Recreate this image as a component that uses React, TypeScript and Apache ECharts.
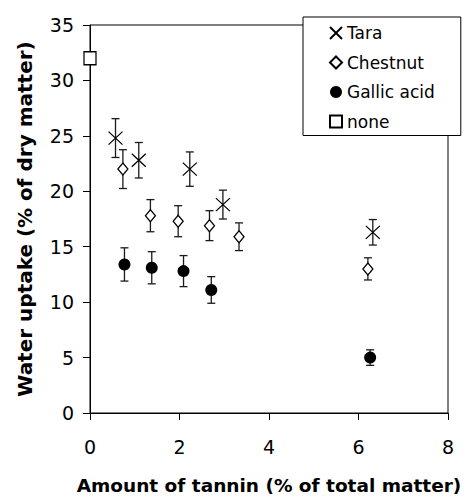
import React, { useEffect, useRef } from "react";
import * as echarts from "echarts";

// Tannin content (% of total matter) and water uptake (% of dry matter) with ± error
const taraX = [0.57, 1.09, 2.23, 2.97, 6.32];
const taraY = [24.8, 22.8, 22.0, 18.8, 16.3];
const taraErr = [1.75, 1.6, 1.55, 1.3, 1.15];

const chestnutX = [0.735, 1.35, 1.97, 2.67, 3.33, 6.21];
const chestnutY = [22.0, 17.8, 17.3, 16.9, 15.9, 13.0];
const chestnutErr = [1.75, 1.45, 1.4, 1.35, 1.25, 1.0];

const gallicX = [0.77, 1.38, 2.09, 2.71, 6.26];
const gallicY = [13.4, 13.1, 12.8, 11.1, 5.0];
const gallicErr = [1.5, 1.45, 1.4, 1.2, 0.7];

const noneX = [0];
const noneY = [32.0];

const seriesNames = ["Tara", "Chestnut", "Gallic acid", "none"];

const FONT = "DejaVu Sans";
const CROSS = "path://M0,0L12,12M12,0L0,12";

const pairs = (xs: number[], ys: number[]) => xs.map((x, i) => [x, ys[i]]);

function errorBars(id: string, xs: number[], ys: number[], errs: number[]) {
  return {
    id,
    type: "custom",
    silent: true,
    clip: false,
    z: 1,
    encode: { x: 0, y: [1, 2] },
    data: xs.map((x, i) => [x, ys[i] - errs[i], ys[i] + errs[i]]),
    renderItem: (_params: any, api: any) => {
      const x = api.value(0);
      const lo = api.coord([x, api.value(1)]);
      const hi = api.coord([x, api.value(2)]);
      const half = 4;
      const style = { stroke: "#1a1a1a", lineWidth: 1.3 };
      return {
        type: "group",
        children: [
          { type: "line", shape: { x1: lo[0], y1: lo[1], x2: hi[0], y2: hi[1] }, style },
          { type: "line", shape: { x1: lo[0] - half, y1: lo[1], x2: lo[0] + half, y2: lo[1] }, style },
          { type: "line", shape: { x1: hi[0] - half, y1: hi[1], x2: hi[0] + half, y2: hi[1] }, style },
        ],
      };
    },
  };
}

export default function App() {
  const ref = useRef<HTMLDivElement>(null);

  useEffect(() => {
    if (!ref.current) return;
    const chart = echarts.init(ref.current, undefined, { renderer: "svg" });
    chart.setOption({
      animation: false,
      backgroundColor: "#ffffff",
      textStyle: { fontFamily: FONT, color: "#000" },
      grid: {
        left: 90,
        right: 20,
        top: 25,
        bottom: 83,
        outerBoundsMode: "none",
        containLabel: false,
        show: true,
        borderColor: "#000",
        borderWidth: 1,
      },
      legend: {
        orient: "vertical",
        left: 303,
        top: 17,
        data: seriesNames,
        itemWidth: 12,
        itemHeight: 12,
        itemGap: 9.5,
        padding: [6, 26, 4, 26],
        borderColor: "#000",
        borderWidth: 1,
        backgroundColor: "#fff",
        textStyle: { fontFamily: FONT, fontSize: 17, color: "#000", lineHeight: 20 },
        selectedMode: false,
      },
      xAxis: {
        type: "value",
        min: 0,
        max: 8,
        interval: 2,
        name: "Amount of tannin (% of total matter)",
        nameLocation: "middle",
        nameGap: 63,
        nameTextStyle: { fontFamily: FONT, fontSize: 18.5, fontWeight: "bold", color: "#000" },
        axisLine: { show: true, lineStyle: { color: "#000", width: 1 } },
        axisTick: { show: true, length: 7, lineStyle: { color: "#000" } },
        axisLabel: { fontFamily: FONT, fontSize: 19, color: "#000", margin: 24 },
        splitLine: { show: false },
      },
      yAxis: {
        type: "value",
        min: 0,
        max: 35,
        interval: 5,
        name: "Water uptake (% of dry matter)",
        nameLocation: "middle",
        nameGap: 55,
        nameRotate: 90,
        nameTextStyle: { fontFamily: FONT, fontSize: 20, fontWeight: "bold", color: "#000" },
        axisLine: { show: true, lineStyle: { color: "#000", width: 1 } },
        axisTick: { show: true, length: 7, lineStyle: { color: "#000" } },
        axisLabel: { fontFamily: FONT, fontSize: 19, color: "#000", margin: 16 },
        splitLine: { show: false },
      },
      series: [
        errorBars("tara-err", taraX, taraY, taraErr),
        errorBars("chestnut-err", chestnutX, chestnutY, chestnutErr),
        errorBars("gallic-err", gallicX, gallicY, gallicErr),
        {
          name: "Tara",
          type: "scatter",
          clip: false,
          z: 3,
          symbol: CROSS,
          symbolSize: [14, 13],
          itemStyle: { color: "#000", borderColor: "#000", borderWidth: 1.2, opacity: 1 },
          data: pairs(taraX, taraY),
        },
        {
          name: "Chestnut",
          type: "scatter",
          clip: false,
          z: 3,
          symbol: "diamond",
          symbolSize: [10, 12],
          itemStyle: { color: "#fff", borderColor: "#000", borderWidth: 1.3, opacity: 1 },
          data: pairs(chestnutX, chestnutY),
        },
        {
          name: "Gallic acid",
          type: "scatter",
          clip: false,
          z: 3,
          symbol: "circle",
          symbolSize: 12,
          itemStyle: { color: "#000", borderColor: "#000", borderWidth: 0, opacity: 1 },
          data: pairs(gallicX, gallicY),
        },
        {
          name: "none",
          type: "scatter",
          clip: false,
          z: 3,
          symbol: "rect",
          symbolSize: [12, 13],
          itemStyle: { color: "#fff", borderColor: "#000", borderWidth: 1.3, opacity: 1 },
          data: pairs(noneX, noneY),
        },
      ],
    });
    return () => chart.dispose();
  }, []);

  return (
    <div
      ref={ref}
      style={{ position: "absolute", left: 0, top: 0, width: 468, height: 496 }}
    />
  );
}
